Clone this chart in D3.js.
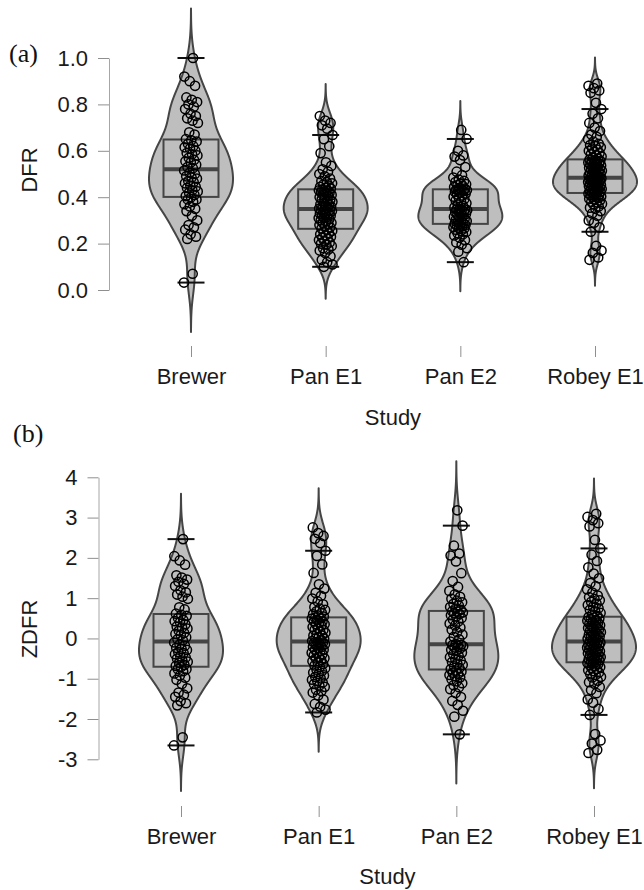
<!DOCTYPE html>
<html>
<head>
<meta charset="utf-8">
<script src="https://cdn.jsdelivr.net/npm/d3@7"></script>
<style>
  body { margin: 0; background: #fff; }
  svg { display: block; }
</style>
</head>
<body>
<div id="app"></div>
<script>
// Studies along the x axis, and the DFR of every participant.
const studies = ['Brewer', 'Pan E1', 'Pan E2', 'Robey E1'];

const dfrBrewer = [
  0.032, 0.07, 0.22, 0.23, 0.24, 0.26, 0.27, 0.28, 0.30, 0.32, 0.34, 0.35, 0.36, 0.37, 0.38, 0.39, 0.39,
  0.40, 0.405, 0.41, 0.42, 0.425, 0.43, 0.44, 0.445, 0.45, 0.46, 0.465, 0.47, 0.48, 0.485, 0.49, 0.50, 0.505, 0.515,
  0.525, 0.53, 0.54, 0.55, 0.555, 0.56, 0.57, 0.58, 0.585, 0.59, 0.60, 0.61, 0.615, 0.62, 0.63, 0.64, 0.645,
  0.65, 0.67, 0.68, 0.72, 0.73, 0.74, 0.75, 0.76, 0.78, 0.79, 0.80, 0.81, 0.82, 0.83, 0.88, 0.90, 0.92, 1.00
];
const dfrPanE1 = [
  0.10, 0.11, 0.12, 0.13, 0.145, 0.16, 0.17, 0.175, 0.18, 0.19, 0.195, 0.20, 0.205, 0.21, 0.215, 0.22, 0.225, 0.23, 0.235, 0.24, 0.245, 0.25, 0.255, 0.26,
  0.265, 0.27, 0.275, 0.28, 0.285, 0.29, 0.29, 0.295, 0.30, 0.305, 0.31, 0.31, 0.315, 0.32, 0.32, 0.325, 0.33, 0.33, 0.335, 0.34, 0.34, 0.345, 0.345, 0.347,
  0.351, 0.355, 0.36, 0.36, 0.365, 0.37, 0.37, 0.375, 0.38, 0.385, 0.39, 0.39, 0.395, 0.40, 0.405, 0.41, 0.41, 0.415, 0.42, 0.42, 0.425, 0.43, 0.43, 0.433,
  0.437, 0.44, 0.445, 0.45, 0.455, 0.46, 0.465, 0.47, 0.48, 0.49, 0.50, 0.51, 0.52, 0.535, 0.55, 0.59, 0.62, 0.65, 0.668, 0.695, 0.71, 0.72, 0.73, 0.75
];
const dfrPanE2 = [
  0.12, 0.165, 0.18, 0.195, 0.205, 0.215, 0.225, 0.235, 0.24, 0.245, 0.25, 0.255, 0.26, 0.265, 0.268, 0.271, 0.274, 0.277, 0.28, 0.282,
  0.286, 0.289, 0.293, 0.297, 0.30, 0.304, 0.308, 0.312, 0.316, 0.32, 0.324, 0.328, 0.332, 0.335, 0.338, 0.341, 0.344, 0.346, 0.347, 0.348,
  0.35, 0.356, 0.362, 0.368, 0.374, 0.38, 0.386, 0.392, 0.397, 0.402, 0.407, 0.412, 0.416, 0.42, 0.423, 0.426, 0.428, 0.43, 0.432, 0.433,
  0.437, 0.44, 0.444, 0.448, 0.452, 0.456, 0.46, 0.465, 0.47, 0.476, 0.485, 0.495, 0.51, 0.53, 0.56, 0.575, 0.58, 0.60, 0.651, 0.69
];
const dfrRobeyE1 = [
  0.13, 0.14, 0.16, 0.17, 0.19, 0.251, 0.27, 0.29, 0.30, 0.32, 0.33, 0.34, 0.35, 0.355, 0.36, 0.37, 0.372, 0.378, 0.38, 0.386,
  0.39, 0.393, 0.397, 0.40, 0.403, 0.406, 0.41, 0.412, 0.414, 0.416,
  0.419, 0.421, 0.424, 0.426, 0.428, 0.431, 0.433, 0.435, 0.437, 0.44, 0.442, 0.444, 0.447, 0.449, 0.451, 0.453, 0.456, 0.458, 0.46, 0.462,
  0.465, 0.467, 0.469, 0.471, 0.473, 0.475, 0.477, 0.479, 0.481, 0.483,
  0.485, 0.488, 0.49, 0.493, 0.495, 0.498, 0.50, 0.503, 0.506, 0.508, 0.511, 0.514, 0.516, 0.519, 0.522, 0.525, 0.527, 0.53, 0.533, 0.536,
  0.539, 0.541, 0.544, 0.547, 0.55, 0.552, 0.555, 0.557, 0.56, 0.562,
  0.566, 0.57, 0.575, 0.58, 0.585, 0.59, 0.595, 0.60, 0.605, 0.61, 0.615, 0.62, 0.625, 0.63, 0.64, 0.65, 0.66, 0.67, 0.685, 0.70,
  0.72, 0.74, 0.76, 0.78, 0.807, 0.85, 0.86, 0.87, 0.88, 0.89
];

// ZDFR = DFR standardised within each study (centre / spread).
const zdfrCenter = [0.534, 0.360, 0.364, 0.494];
const zdfrScale = [0.189, 0.1415, 0.1025, 0.128];

const dfrTicks = [0, 0.2, 0.4, 0.6, 0.8, 1.0];
const zdfrTicks = [-3, -2, -1, 0, 1, 2, 3, 4];

const dfrByStudy = [dfrBrewer, dfrPanE1, dfrPanE2, dfrRobeyE1];

const svgWidth = 644;
const svgHeight = 890;
const sans = '"Liberation Sans", Arial, sans-serif';
const serif = '"Liberation Serif", "Times New Roman", serif';
const fontSize = 22;
const violinFill = '#bebebe';
const violinStroke = '#454545';
const axisGrey = '#8f8f8f';

const panels = [
  {
    tag: '(a)', tagX: 9, tagY: 62,
    yTitle: 'DFR', yTitleX: 37, yTitleY: 170,
    yDomain: [0, 1], yRange: [290, 58], yTicks: dfrTicks, yFormat: d3.format('.1f'),
    axisX: 109, xRange: [191, 595], xTickY: 346, xTitleY: 425,
    values: dfrByStudy
  },
  {
    tag: '(b)', tagX: 13, tagY: 442,
    yTitle: 'ZDFR', yTitleX: 37, yTitleY: 629,
    yDomain: [-3, 4], yRange: [759.3, 477.3], yTicks: zdfrTicks, yFormat: (d) => String(d),
    axisX: 98.5, xRange: [181, 594], xTickY: 806, xTitleY: 884,
    values: dfrByStudy.map((vals, i) => vals.map((v) => (v - zdfrCenter[i]) / zdfrScale[i]))
  }
];

const svg = d3.select('#app')
  .append('svg')
  .attr('width', svgWidth)
  .attr('height', svgHeight)
  .attr('viewBox', `0 0 ${svgWidth} ${svgHeight}`);

panels.forEach(drawPanel);

// Silverman's rule of thumb (R's bw.nrd0), as used by the violin density.
function bandwidth(sorted) {
  const sd = d3.deviation(sorted);
  const iqr = d3.quantileSorted(sorted, 0.75) - d3.quantileSorted(sorted, 0.25);
  return 0.9 * Math.min(sd, iqr / 1.34) * Math.pow(sorted.length, -0.2);
}

// Gaussian kernel density over the untrimmed range (data range +/- 3 bandwidths).
function density(sorted) {
  const h = bandwidth(sorted);
  const lo = sorted[0] - 3 * h;
  const hi = sorted[sorted.length - 1] + 3 * h;
  const norm = 1 / (Math.sqrt(2 * Math.PI) * h * sorted.length);
  return d3.range(513).map((i) => {
    const t = lo + ((hi - lo) * i) / 512;
    const d = d3.sum(sorted, (v) => Math.exp(-0.5 * ((t - v) / h) ** 2)) * norm;
    return [t, d];
  });
}

function boxStats(sorted) {
  const q1 = d3.quantileSorted(sorted, 0.25);
  const median = d3.quantileSorted(sorted, 0.5);
  const q3 = d3.quantileSorted(sorted, 0.75);
  const iqr = q3 - q1;
  const low = d3.min(sorted.filter((v) => v >= q1 - 1.5 * iqr));
  const high = d3.max(sorted.filter((v) => v <= q3 + 1.5 * iqr));
  return { q1, median, q3, low, high };
}

function drawPanel(p) {
  const g = svg.append('g');
  const y = d3.scaleLinear().domain(p.yDomain).range(p.yRange);
  const x = d3.scalePoint().domain(studies).range(p.xRange);

  const violinHalf = 42;
  const boxHalf = 27.5;
  const capHalf = 13.5;
  const jitter = 7;

  studies.forEach((study, i) => {
    const sorted = p.values[i].slice().sort(d3.ascending);
    const cx = x(study);
    const dens = density(sorted);
    const w = d3.scaleLinear().domain([0, d3.max(dens, (d) => d[1])]).range([0, violinHalf]);

    const area = d3.area()
      .y((d) => y(d[0]))
      .x0((d) => cx - w(d[1]))
      .x1((d) => cx + w(d[1]));

    g.append('path')
      .attr('d', area(dens))
      .attr('fill', violinFill)
      .attr('stroke', violinStroke)
      .attr('stroke-width', 2)
      .attr('stroke-linejoin', 'round');

    const s = boxStats(sorted);
    g.append('rect')
      .attr('x', cx - boxHalf)
      .attr('width', boxHalf * 2)
      .attr('y', y(s.q3))
      .attr('height', y(s.q1) - y(s.q3))
      .attr('fill', 'none')
      .attr('stroke', violinStroke)
      .attr('stroke-width', 2);
    g.append('line')
      .attr('x1', cx - boxHalf)
      .attr('x2', cx + boxHalf)
      .attr('y1', y(s.median))
      .attr('y2', y(s.median))
      .attr('stroke', violinStroke)
      .attr('stroke-width', 4);

    g.selectAll(null)
      .data([s.low, s.high])
      .join('line')
      .attr('x1', cx - capHalf)
      .attr('x2', cx + capHalf)
      .attr('y1', (d) => y(d))
      .attr('y2', (d) => y(d))
      .attr('stroke', '#111')
      .attr('stroke-width', 2);

    // jittered participants (deterministic spread so the figure is stable)
    g.selectAll(null)
      .data(p.values[i])
      .join('circle')
      .attr('cx', (_, j) => cx + (((j * 0.6180339887 + i * 0.37) % 1) * 2 - 1) * jitter)
      .attr('cy', (d) => y(d))
      .attr('r', 4.6)
      .attr('fill', 'none')
      .attr('stroke', '#000')
      .attr('stroke-width', 1.5);
  });

  const yAxis = g.append('g')
    .attr('transform', `translate(${p.axisX},0)`)
    .call(d3.axisLeft(y).tickValues(p.yTicks).tickFormat(p.yFormat).tickSize(11).tickPadding(10).tickSizeOuter(0));
  yAxis.select('.domain').attr('stroke', '#a6a6a6');
  yAxis.selectAll('line').attr('stroke', axisGrey);
  yAxis.selectAll('text').attr('font-size', fontSize).attr('font-family', sans).attr('fill', '#1a1a1a');

  const xAxis = g.append('g')
    .attr('transform', `translate(0,${p.xTickY})`)
    .call(d3.axisBottom(x).tickSize(11).tickPadding(11));
  xAxis.select('.domain').remove();
  xAxis.selectAll('line').attr('stroke', axisGrey);
  xAxis.selectAll('text').attr('font-size', fontSize).attr('font-family', sans).attr('fill', '#1a1a1a');

  g.append('text')
    .attr('x', (p.xRange[0] + p.xRange[1]) / 2)
    .attr('y', p.xTitleY)
    .attr('text-anchor', 'middle')
    .attr('font-family', sans)
    .attr('font-size', fontSize)
    .attr('fill', '#1a1a1a')
    .text('Study');

  g.append('text')
    .attr('transform', `translate(${p.yTitleX},${p.yTitleY}) rotate(-90)`)
    .attr('text-anchor', 'middle')
    .attr('font-family', sans)
    .attr('font-size', fontSize)
    .attr('fill', '#1a1a1a')
    .text(p.yTitle);

  g.append('text')
    .attr('x', p.tagX)
    .attr('y', p.tagY)
    .attr('font-family', serif)
    .attr('font-size', 26)
    .attr('fill', '#111')
    .text(p.tag);
}
</script>
</body>
</html>
